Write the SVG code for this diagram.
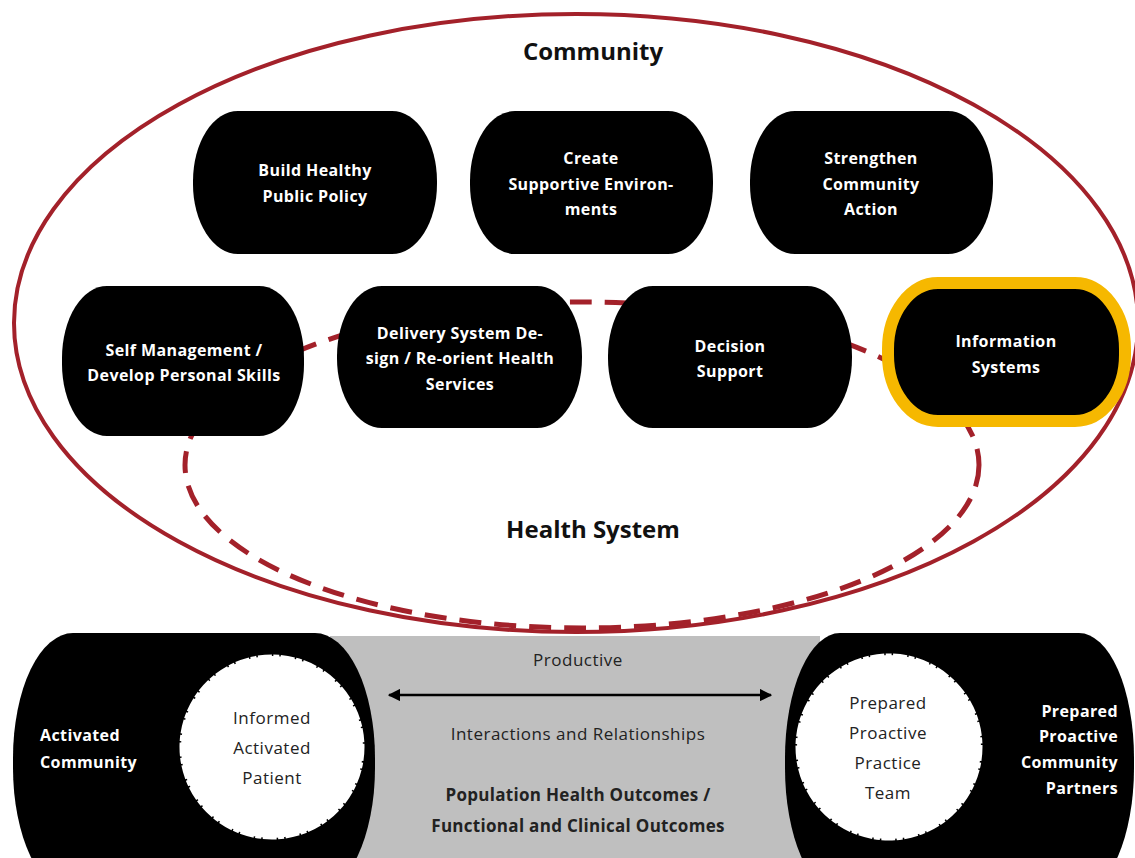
<svg xmlns="http://www.w3.org/2000/svg" width="1135" height="858" viewBox="0 0 1135 858">
<defs>
<style>
.nb{fill:#000}
.wt{fill:#fff;font-family:"Open Sans",Lato,sans-serif;font-weight:bold;font-size:16px;letter-spacing:0.4px;text-anchor:middle}
.dt{fill:#222;font-family:"Open Sans",Lato,sans-serif;font-size:17px;letter-spacing:0.5px;text-anchor:middle}
.db{fill:#222;font-family:"Open Sans",Lato,sans-serif;font-weight:bold;font-size:17px;letter-spacing:0.3px;text-anchor:middle}
.title{fill:#111;font-family:"Open Sans",Lato,sans-serif;font-weight:bold;font-size:24px;text-anchor:middle}
.circ{fill:#fff;stroke:#fff;stroke-width:3;stroke-dasharray:14 1.5 6 1.5}
</style>
<marker id="ah" viewBox="0 0 10 10" refX="9" refY="5" markerWidth="5" markerHeight="5" orient="auto-start-reverse">
<path d="M0,0 L10,5 L0,10 z" fill="#000"/>
</marker>
</defs>
<rect width="1135" height="858" fill="#fff"/>
<g id="community-ellipse">
<ellipse cx="576" cy="323" rx="562" ry="309" fill="none" stroke="#A3212A" stroke-width="4"/>
</g>
<g id="connectors">
<ellipse cx="582" cy="465" rx="397" ry="163" fill="none" stroke="#A3212A" stroke-width="5" stroke-dasharray="22 13"/>
</g>
<text class="title" x="593" y="60">Community</text>
<text class="title" x="593" y="538">Health System</text>
<g id="build-healthy">
<rect class="nb" x="193" y="111" width="244" height="143" rx="45" ry="70"/>
<text class="wt" x="315" y="176">Build Healthy</text>
<text class="wt" x="315" y="202">Public Policy</text>
</g>
<g id="create-supportive">
<rect class="nb" x="470" y="111" width="243" height="143" rx="45" ry="70"/>
<text class="wt" x="591" y="164">Create</text>
<text class="wt" x="591" y="190">Supportive Environ-</text>
<text class="wt" x="591" y="215">ments</text>
</g>
<g id="strengthen-community">
<rect class="nb" x="750" y="111" width="243" height="143" rx="45" ry="70"/>
<text class="wt" x="871" y="164">Strengthen</text>
<text class="wt" x="871" y="190">Community</text>
<text class="wt" x="871" y="215">Action</text>
</g>
<g id="self-management">
<rect class="nb" x="62" y="286" width="242" height="150" rx="45" ry="72"/>
<text class="wt" x="184" y="356">Self Management /</text>
<text class="wt" x="184" y="381">Develop Personal Skills</text>
</g>
<g id="delivery-system">
<rect class="nb" x="337" y="286" width="245" height="142" rx="45" ry="70"/>
<text class="wt" x="460" y="339">Delivery System De-</text>
<text class="wt" x="460" y="364">sign / Re-orient Health</text>
<text class="wt" x="460" y="390">Services</text>
</g>
<g id="decision-support">
<rect class="nb" x="608" y="286" width="244" height="142" rx="45" ry="70"/>
<text class="wt" x="730" y="352">Decision</text>
<text class="wt" x="730" y="377">Support</text>
</g>
<g id="information-systems">
<rect class="nb" x="888" y="283" width="237" height="138" rx="50" ry="66" stroke="#F6B800" stroke-width="12"/>
<text class="wt" x="1006" y="347">Information</text>
<text class="wt" x="1006" y="373">Systems</text>
</g>
<g id="interactions-band">
<rect x="330" y="636" width="490" height="222" fill="#BFBFBF"/>
<text class="dt" x="578" y="666">Productive</text>
<text class="dt" x="578" y="740">Interactions and Relationships</text>
<text class="db" x="578" y="801">Population Health Outcomes /</text>
<text class="db" x="578" y="832">Functional and Clinical Outcomes</text>
</g>
<g id="connectors-arrow">
<line x1="389" y1="695" x2="771" y2="695" stroke="#000" stroke-width="2.5" marker-start="url(#ah)" marker-end="url(#ah)"/>
</g>
<g id="activated-community">
<rect class="nb" x="13" y="633" width="362" height="260" rx="60" ry="125"/>
<text class="wt" x="40" y="741" style="text-anchor:start">Activated</text>
<text class="wt" x="40" y="768" style="text-anchor:start">Community</text>
</g>
<g id="informed-patient">
<circle class="circ" cx="272" cy="747" r="91"/>
<text class="dt" x="272" y="724">Informed</text>
<text class="dt" x="272" y="754">Activated</text>
<text class="dt" x="272" y="784">Patient</text>
</g>
<g id="community-partners">
<rect class="nb" x="785" y="633" width="349" height="260" rx="55" ry="125"/>
<text class="wt" x="1118" y="717" style="text-anchor:end">Prepared</text>
<text class="wt" x="1118" y="742" style="text-anchor:end">Proactive</text>
<text class="wt" x="1118" y="768" style="text-anchor:end">Community</text>
<text class="wt" x="1118" y="794" style="text-anchor:end">Partners</text>
</g>
<g id="practice-team">
<circle class="circ" cx="889" cy="747" r="92"/>
<text class="dt" x="888" y="709">Prepared</text>
<text class="dt" x="888" y="739">Proactive</text>
<text class="dt" x="888" y="769">Practice</text>
<text class="dt" x="888" y="799">Team</text>
</g>
</svg>
